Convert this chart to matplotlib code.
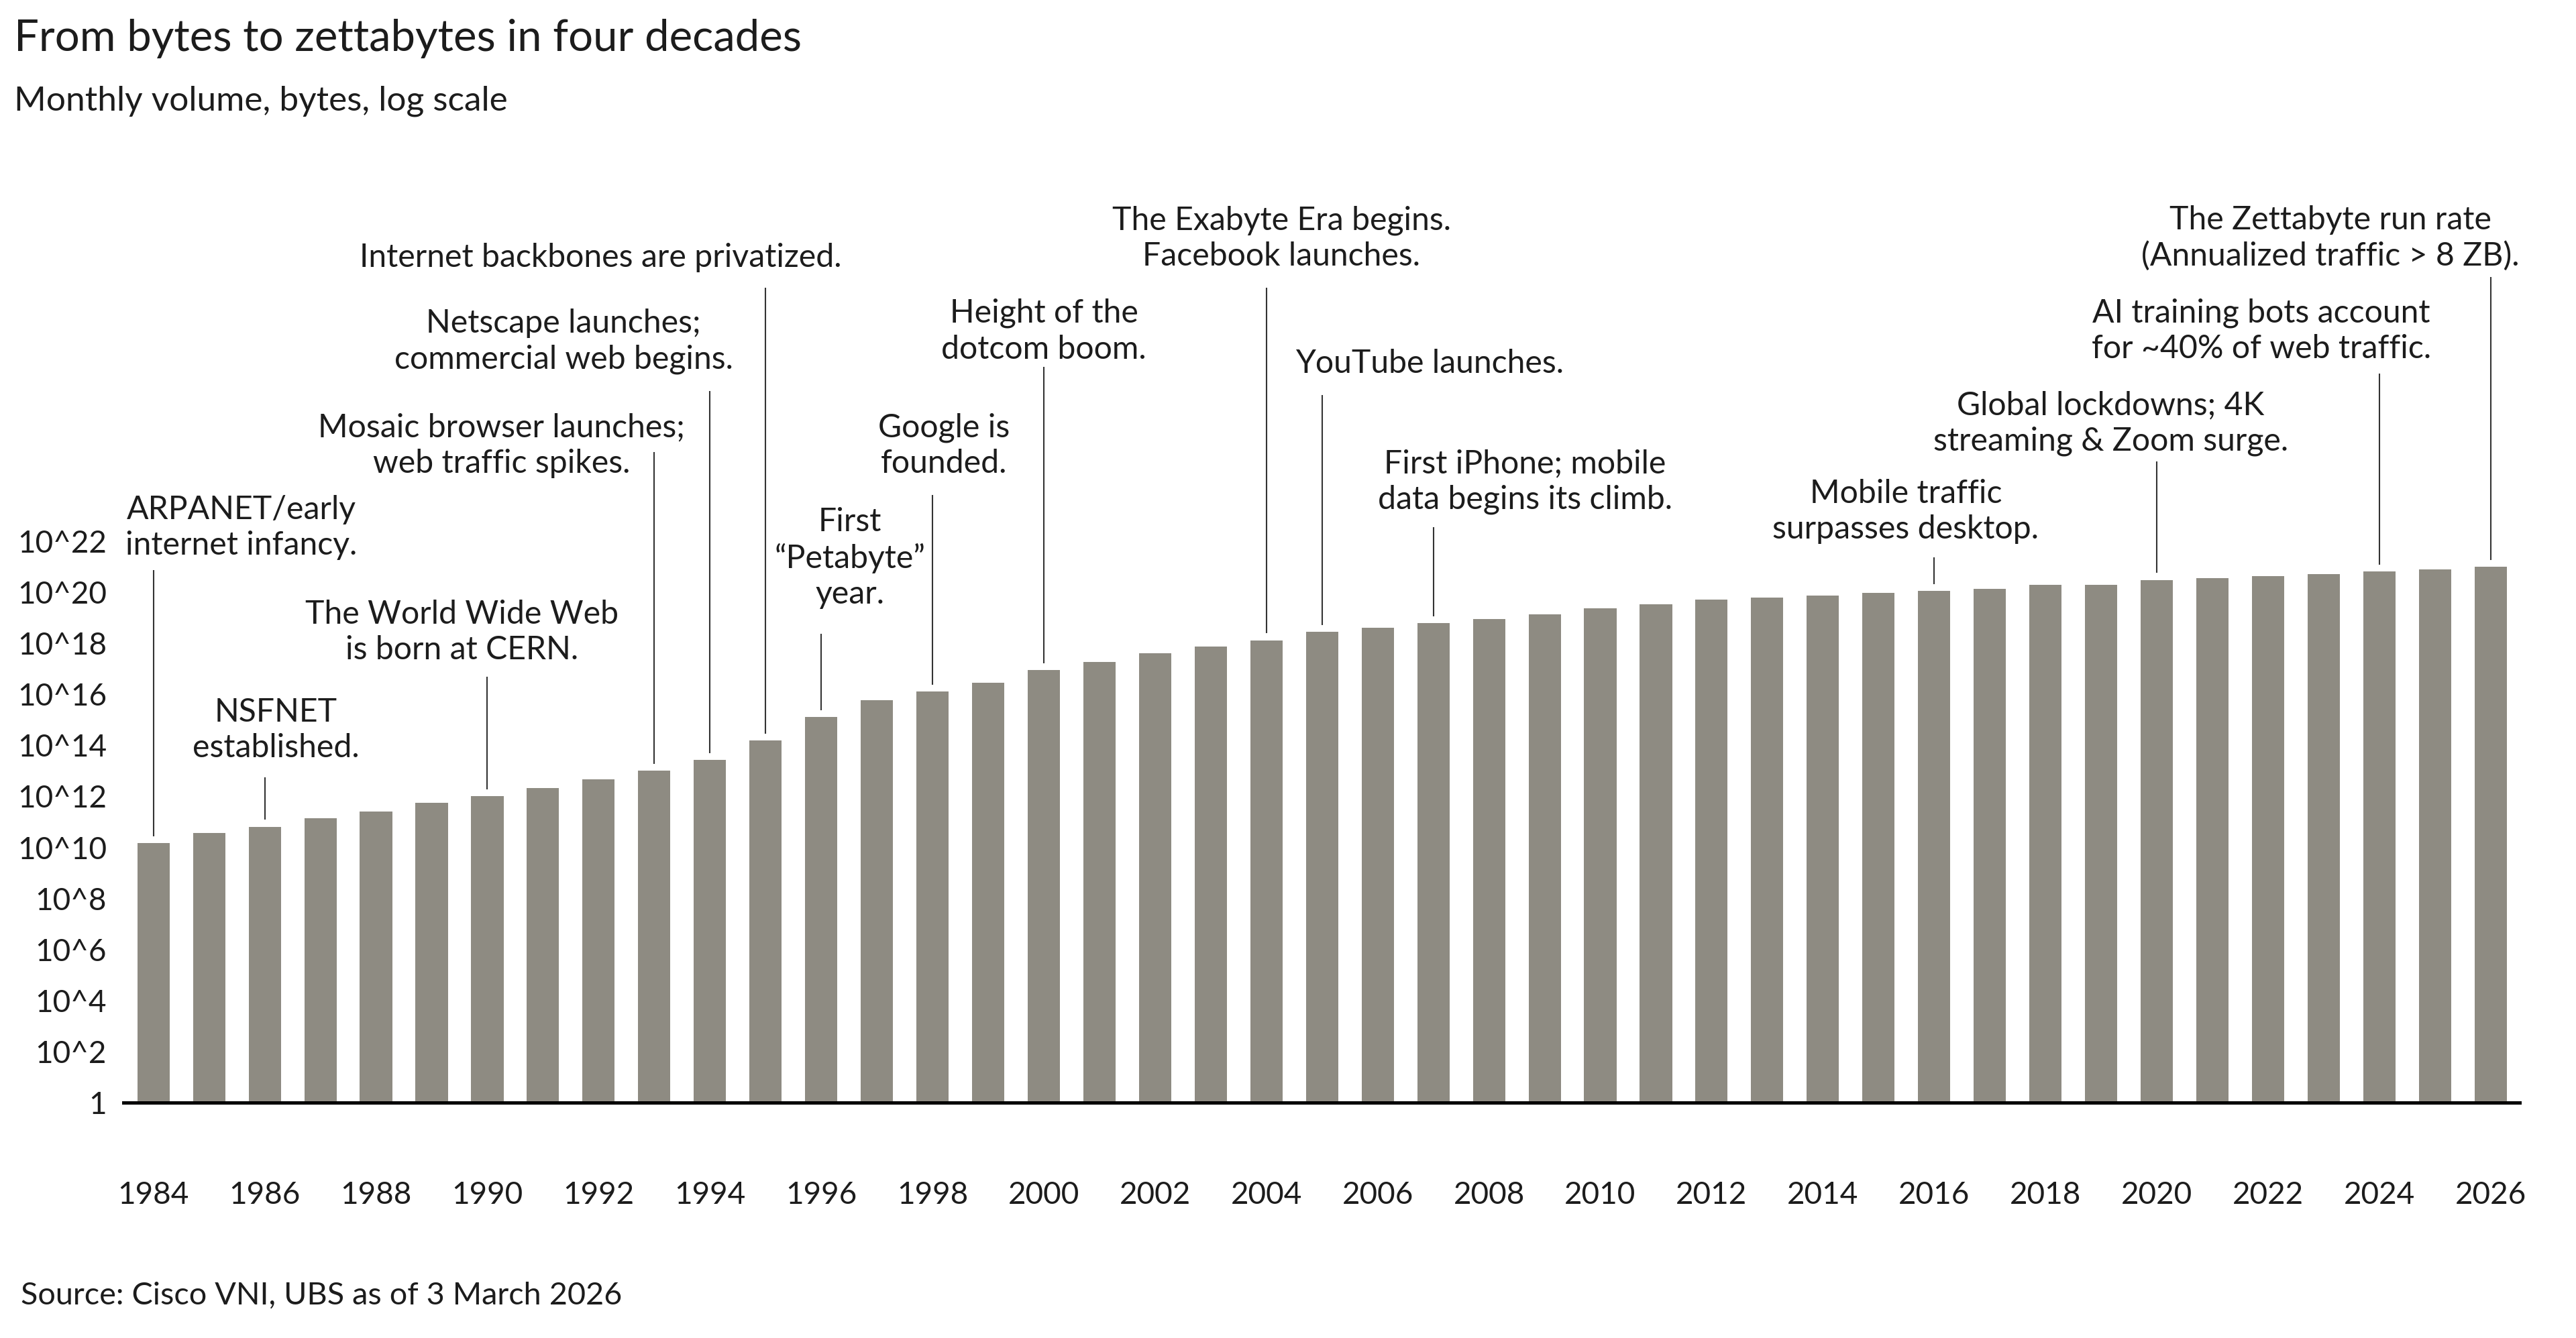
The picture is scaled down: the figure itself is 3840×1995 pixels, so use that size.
import numpy as np
import matplotlib.pyplot as plt
from matplotlib.ticker import NullLocator

plt.rcParams['font.family'] = ['Lato', 'DejaVu Sans']

# monthly traffic volume as log10(bytes)
years = list(range(1984, 2027))
log10_bytes = [10.16, 10.57, 10.81, 11.15, 11.40, 11.74, 12.01, 12.33, 12.66, 13.00,
               13.43, 14.18, 15.10, 15.76, 16.11, 16.44, 16.95, 17.27, 17.61, 17.86,
               18.12, 18.45, 18.61, 18.79, 18.95, 19.12, 19.38, 19.54, 19.71, 19.79,
               19.87, 19.97, 20.05, 20.13, 20.30, 20.30, 20.48, 20.56, 20.64, 20.72,
               20.81, 20.89, 20.99]

ytick_exps = list(range(0, 23, 2))
ytick_labels = ['1'] + [f'10^{k}' for k in ytick_exps[1:]]
xtick_years = list(range(1984, 2027, 2))

event_years = [1984, 1986, 1990, 1993, 1994, 1995, 1996, 1998,
               2000, 2004, 2005, 2007, 2016, 2020, 2024, 2026]
event_labels = [
    'ARPANET/early\ninternet infancy.',
    'NSFNET\nestablished.',
    'The World Wide Web\nis born at CERN.',
    'Mosaic browser launches;\nweb traffic spikes.',
    'Netscape launches;\ncommercial web begins.',
    'Internet backbones are privatized.',
    'First\n\u201cPetabyte\u201d\nyear.',
    'Google is\nfounded.',
    'Height of the\ndotcom boom.',
    'The Exabyte Era begins.\nFacebook launches.',
    'YouTube launches.',
    'First iPhone; mobile\ndata begins its climb.',
    'Mobile traffic\nsurpasses desktop.',
    'Global lockdowns; 4K\nstreaming & Zoom surge.',
    'AI training bots account\nfor ~40% of web traffic.',
    'The Zettabyte run rate\n(Annualized traffic > 8 ZB).',
]

# layout of the callouts: text centre x (year units), baseline of the last
# text line and top of the leader line (log10 units)
label_x = [1985.58, 1986.2, 1989.54, 1990.25, 1991.37, 1992.03, 1996.52, 1998.2,
           2000.0, 2004.27, 2006.93, 2008.65, 2015.49, 2019.17, 2021.88, 2023.12]
label_y = [21.47, 13.53, 17.37, 24.68, 28.77, 32.75, 19.55, 24.68,
           29.15, 32.80, 28.59, 23.26, 22.10, 25.55, 29.17, 32.80]
leader_top = [20.87, 12.75, 16.69, 25.49, 27.88, 31.93, 18.37, 23.81,
              28.83, 31.93, 27.73, 22.55, 21.37, 25.12, 28.57, 32.34]

BAR = '#8e8b82'
INK = '#1c1c1c'

volume = 10 ** np.array(log10_bytes)

fig = plt.figure(figsize=(38.4, 19.95), dpi=100)
ax = fig.add_axes([0.0479, 0.17594, 0.9302, 0.7629])

ax.bar(years, volume - 1, bottom=1, width=0.58, color=BAR, zorder=2)
ax.set_yscale('log')
ax.set_ylim(1, 1e40)
ax.set_xlim(1983.46, 2026.52)

ax.set_yticks([10.0 ** k for k in ytick_exps])
ax.set_yticklabels(ytick_labels)
ax.yaxis.set_minor_locator(NullLocator())
ax.set_xticks(xtick_years)
ax.set_xticklabels([str(y) for y in xtick_years])
ax.tick_params(axis='y', length=0, pad=18, labelsize=33, labelcolor=INK)
ax.tick_params(axis='x', length=0, pad=84, labelsize=33, labelcolor=INK)

for side in ['left', 'right', 'top']:
    ax.spines[side].set_visible(False)
ax.spines['bottom'].set_linewidth(3.6)
ax.spines['bottom'].set_color('black')
ax.spines['bottom'].set_zorder(3)

bar_top = dict(zip(years, log10_bytes))
for yr, text, tx, ty, top in zip(event_years, event_labels, label_x,
                                 label_y, leader_top):
    ax.vlines(yr, 10 ** (bar_top[yr] + 0.27), 10 ** top,
              color='#333333', linewidth=1.5)
    ax.text(tx, 10 ** ty, text, ha='center', va='baseline', fontsize=34.7,
            linespacing=1.26, color=INK)

fig.text(0.0055, 0.9619, 'From bytes to zettabytes in four decades',
         fontsize=47, color=INK, va='baseline')
fig.text(0.0055, 0.9173, 'Monthly volume, bytes, log scale',
         fontsize=37, color=INK, va='baseline')
fig.text(0.008, 0.0251, 'Source: Cisco VNI, UBS as of 3 March 2026',
         fontsize=33.7, color=INK, va='baseline')

fig.savefig('out.png', dpi=100, facecolor='white')
